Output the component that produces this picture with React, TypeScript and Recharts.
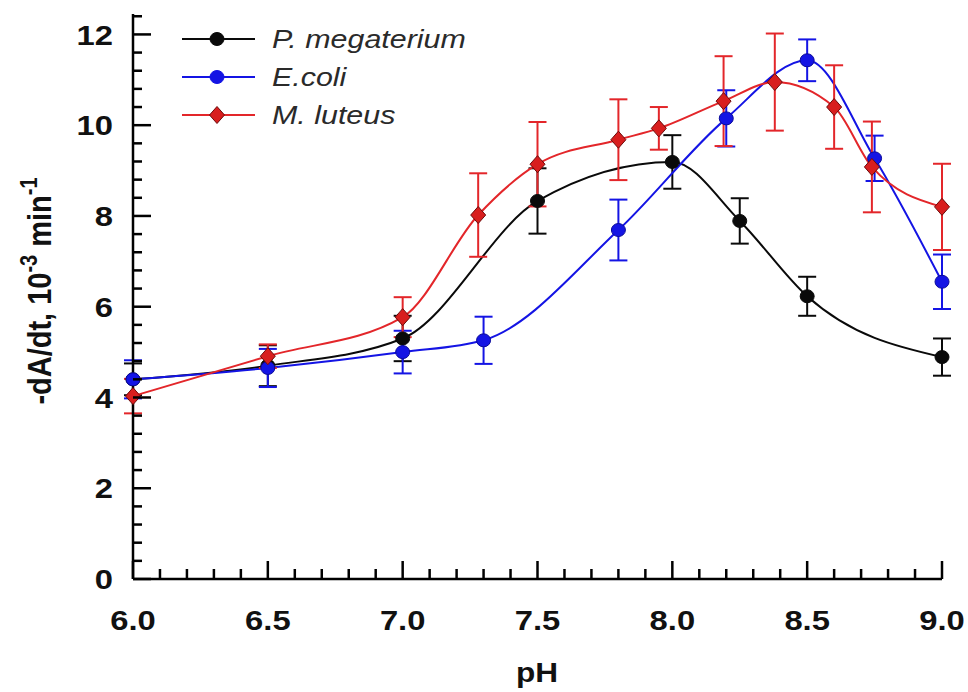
import React from 'react';
import { LineChart, Line, XAxis, YAxis, ErrorBar } from 'recharts';

// pH values and rates (10^-3 min^-1)
const megX = [6.0, 6.5, 7.0, 7.5, 8.0, 8.25, 8.5, 9.0];
const megY = [4.4, 4.7, 5.3, 8.33, 9.19, 7.89, 6.23, 4.89];
const megErr = [0.35, 0.45, 0.5, 0.72, 0.59, 0.5, 0.43, 0.41];

const coliX = [6.0, 6.5, 7.0, 7.3, 7.8, 8.2, 8.5, 8.75, 9.0];
const coliY = [4.4, 4.65, 5.0, 5.26, 7.69, 10.15, 11.43, 9.27, 6.55];
const coliErr = [0.42, 0.42, 0.47, 0.52, 0.67, 0.62, 0.46, 0.5, 0.6];

const lutX = [6.0, 6.5, 7.0, 7.28, 7.5, 7.8, 7.95, 8.19, 8.38, 8.6, 8.74, 9.0];
const lutY = [4.03, 4.91, 5.77, 8.02, 9.14, 9.68, 9.93, 10.53, 10.95, 10.4, 9.08, 8.2];
const lutErr = [0.38, 0.26, 0.44, 0.92, 0.93, 0.89, 0.47, 0.99, 1.07, 0.92, 1.0, 0.95];

const xTicks = [
  6.0, 6.1, 6.2, 6.3, 6.4, 6.5, 6.6, 6.7, 6.8, 6.9, 7.0, 7.1, 7.2, 7.3, 7.4, 7.5,
  7.6, 7.7, 7.8, 7.9, 8.0, 8.1, 8.2, 8.3, 8.4, 8.5, 8.6, 8.7, 8.8, 8.9, 9.0,
];
const yTicks = [
  0, 0.4, 0.8, 1.2, 1.6, 2, 2.4, 2.8, 3.2, 3.6, 4, 4.4, 4.8, 5.2, 5.6, 6, 6.4,
  6.8, 7.2, 7.6, 8, 8.4, 8.8, 9.2, 9.6, 10, 10.4, 10.8, 11.2, 11.6, 12, 12.4,
];

const seriesNames = ['P. megaterium', 'E.coli', 'M. luteus'];

const toRows = (xs: number[], ys: number[], errs: number[]) =>
  xs.map((x, i) => ({ x, y: ys[i], err: errs[i] }));

const megData = toRows(megX, megY, megErr);
const coliData = toRows(coliX, coliY, coliErr);
const lutData = toRows(lutX, lutY, lutErr);

const FONT = '"Liberation Sans", Arial, Helvetica, sans-serif';
const SX = 1.17; // the figure is a bit wider than tall
const BLACK = '#0a0a0a';
const BLUE = '#1414e4';
const RED = '#e3262a';
const RED_FILL = '#d81e1e';

const isMultiple = (v: number, step: number) =>
  Math.abs(v / step - Math.round(v / step)) < 1e-6;

const YTick = (props: any) => {
  const { x, y, payload } = props;
  const v = payload.value;
  const major = isMultiple(v, 2);
  return (
    <g>
      <line x1={x} x2={x + (major ? 18 : 9)} y1={y} y2={y} stroke="#000" strokeWidth={2.5} />
      {major && (
        <text
          transform={`translate(${x - 20},${y}) scale(${SX},1)`}
          dy="0.36em"
          textAnchor="end"
          fontSize={28}
          fontWeight="bold"
          fontFamily={FONT}
          fill="#111"
        >
          {v}
        </text>
      )}
    </g>
  );
};

const XTick = (props: any) => {
  const { x, y, payload } = props;
  const v = payload.value;
  const major = isMultiple(v, 0.5);
  return (
    <g>
      <line x1={x} x2={x} y1={y} y2={y - (major ? 18 : 10)} stroke="#000" strokeWidth={2.5} />
      {major && (
        <text
          transform={`translate(${x},${y + 51}) scale(${SX},1)`}
          textAnchor="middle"
          fontSize={28}
          fontWeight="bold"
          fontFamily={FONT}
          fill="#111"
        >
          {v.toFixed(1)}
        </text>
      )}
    </g>
  );
};

const circleDot = (fill: string, stroke: string) => (props: any) => {
  const { cx, cy, index } = props;
  if (cx == null || cy == null) return <g key={index} />;
  return <ellipse key={index} cx={cx} cy={cy} rx={7} ry={6.5} fill={fill} stroke={stroke} strokeWidth={1} />;
};

const diamondDot = (props: any) => {
  const { cx, cy, index } = props;
  if (cx == null || cy == null) return <g key={index} />;
  return (
    <polygon
      key={index}
      points={`${cx},${cy - 8.5} ${cx + 7.5},${cy} ${cx},${cy + 8.5} ${cx - 7.5},${cy}`}
      fill={RED_FILL}
      stroke="#6e0a0a"
      strokeWidth={1}
    />
  );
};

const YLabel = () => (
  <text
    transform={`translate(51,291) scale(${SX},1) rotate(-90)`}
    textAnchor="middle"
    fontSize={29}
    fontWeight="bold"
    fontFamily={FONT}
    fill="#111"
  >
    <tspan>-dA/dt, 10</tspan>
    <tspan dy={-12} fontSize={20}>-3</tspan>
    <tspan dy={12}> min</tspan>
    <tspan dy={-12} fontSize={20}>-1</tspan>
  </text>
);

const XLabel = () => (
  <text
    transform={`translate(537,682) scale(${SX},1)`}
    textAnchor="middle"
    fontSize={27}
    fontWeight="bold"
    fontFamily={FONT}
    fill="#111"
  >
    pH
  </text>
);

const legendRows = [
  { name: seriesNames[0], color: BLACK, kind: 'circle', fill: BLACK },
  { name: seriesNames[1], color: BLUE, kind: 'circle', fill: BLUE },
  { name: seriesNames[2], color: RED, kind: 'diamond', fill: RED_FILL },
];

const LegendBox = () => (
  <svg
    width={330}
    height={130}
    style={{ position: 'absolute', left: 170, top: 0, pointerEvents: 'none' }}
  >
    {legendRows.map((r, i) => {
      const cy = 39 + i * 38;
      return (
        <g key={r.name}>
          <line x1={12} x2={85} y1={cy} y2={cy} stroke={r.color} strokeWidth={2} />
          {r.kind === 'circle' ? (
            <ellipse cx={47} cy={cy} rx={7} ry={6.5} fill={r.fill} stroke={r.color} />
          ) : (
            <polygon
              points={`47,${cy - 8.5} 54.5,${cy} 47,${cy + 8.5} 39.5,${cy}`}
              fill={r.fill}
              stroke="#6e0a0a"
            />
          )}
          <text
            transform={`translate(102,${cy + 9}) scale(${SX},1)`}
            fontSize={26}
            fontStyle="italic"
            fontFamily={FONT}
            fill="#2a2a2a"
          >
            {r.name}
          </text>
        </g>
      );
    })}
  </svg>
);

export default function App() {
  return (
    <div style={{ position: 'absolute', left: 0, top: 0, width: 968, height: 692, background: '#fff' }}>
      <LineChart width={968} height={692} margin={{ top: 14, right: 26, left: 0, bottom: 0 }}>
        <XAxis
          dataKey="x"
          type="number"
          domain={[6, 9]}
          ticks={xTicks}
          interval={0}
          height={113}
          tickSize={0}
          tickMargin={0}
          tickLine={false}
          axisLine={{ stroke: '#000', strokeWidth: 2.5 }}
          tick={<XTick />}
          label={<XLabel />}
        />
        <YAxis
          type="number"
          domain={[0, 12.45]}
          ticks={yTicks}
          interval={0}
          width={133}
          tickSize={0}
          tickMargin={0}
          tickLine={false}
          axisLine={{ stroke: '#000', strokeWidth: 2.5 }}
          tick={<YTick />}
          label={<YLabel />}
        />
        <Line
          data={megData}
          dataKey="y"
          name={seriesNames[0]}
          type="monotone"
          stroke={BLACK}
          strokeWidth={2}
          dot={circleDot(BLACK, BLACK)}
          activeDot={false}
          isAnimationActive={false}
        >
          <ErrorBar dataKey="err" direction="y" width={9} stroke={BLACK} strokeWidth={2} />
        </Line>
        <Line
          data={coliData}
          dataKey="y"
          name={seriesNames[1]}
          type="monotone"
          stroke={BLUE}
          strokeWidth={2}
          dot={circleDot(BLUE, '#0a0a9a')}
          activeDot={false}
          isAnimationActive={false}
        >
          <ErrorBar dataKey="err" direction="y" width={9} stroke={BLUE} strokeWidth={2} />
        </Line>
        <Line
          data={lutData}
          dataKey="y"
          name={seriesNames[2]}
          type="monotone"
          stroke={RED}
          strokeWidth={2}
          dot={diamondDot}
          activeDot={false}
          isAnimationActive={false}
        >
          <ErrorBar dataKey="err" direction="y" width={9} stroke={RED} strokeWidth={2} />
        </Line>
      </LineChart>
      <LegendBox />
    </div>
  );
}
